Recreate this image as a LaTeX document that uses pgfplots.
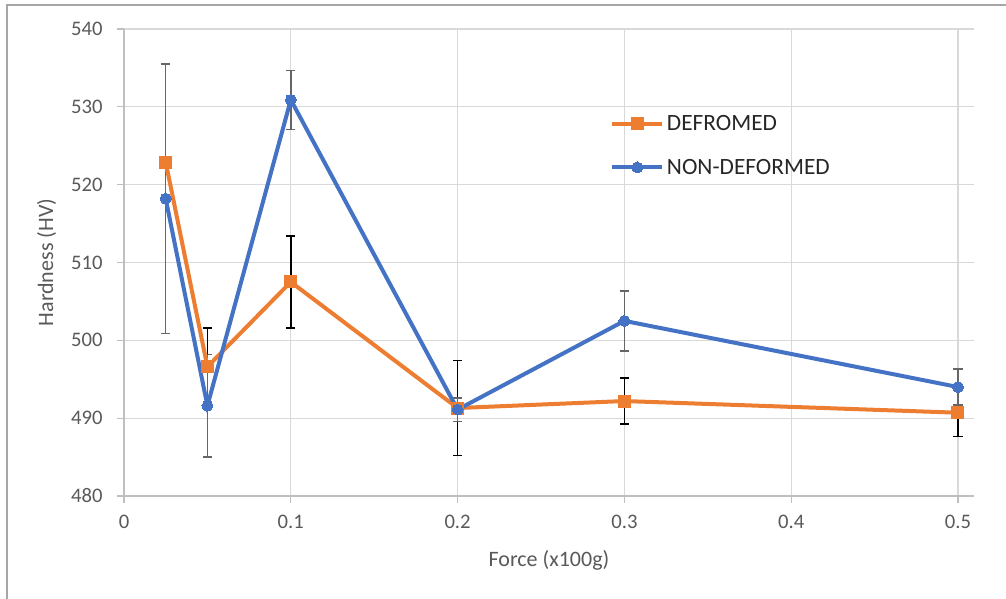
\documentclass[border=0pt]{standalone}
\usepackage{pgfplots}
\pgfplotsset{compat=1.18}
\usepackage{fontspec}
\setmainfont{Carlito}
\definecolor{orng}{HTML}{ED7D31}
\definecolor{blu}{HTML}{4472C4}
\definecolor{gridc}{HTML}{D9D9D9}
\definecolor{axc}{HTML}{BFBFBF}
\definecolor{txt}{HTML}{595959}
\definecolor{bord}{HTML}{A6A6A6}
\definecolor{errg}{HTML}{666666}
\begin{document}
\begin{tikzpicture}
\path[use as bounding box] (-93pt,-77.25pt) rectangle (661.5pt,372pt);
\draw[bord, line width=1.2pt] (-87.75pt,-90pt) -- (-87.75pt,368.25pt) -- (680pt,368.25pt);
\begin{axis}[
  scale only axis, width=637.5pt, height=350.25pt,
  xmin=0, xmax=0.5096, ymin=480, ymax=540,
  xtick={0,0.1,0.2,0.3,0.4,0.5}, xticklabels={0,0.1,0.2,0.3,0.4,0.5},
  ytick={480,490,500,510,520,530,540},
  yticklabels={480,490,500,510,520,530,540},
  grid=major, major grid style={gridc, line width=0.9pt},
  axis x line*=bottom, axis y line*=left,
  axis line style={axc, line width=0.9pt, -},
  tick style={axc, line width=0.9pt}, tick align=outside, major tick length=5pt,
  ticklabel style={font=\fontsize{15.5}{17}\selectfont, text=txt},
  xticklabel style={yshift=-6pt},
  yticklabel style={xshift=-7.5pt},
  xlabel={Force (x100g)}, ylabel={Hardness (HV)},
  every axis x label/.style={at={(axis description cs:0.5,0)}, anchor=center, yshift=-48pt, font=\fontsize{16.5}{18}\selectfont, text=txt},
  every axis y label/.style={at={(axis description cs:0,0.5)}, anchor=center, rotate=90, yshift=58pt, font=\fontsize{16.5}{18}\selectfont, text=txt},
  legend style={at={(0.5718,0.822)}, anchor=north west, draw=none, fill=none,
    font=\fontsize{17.5}{20}\selectfont, text=black!85, row sep=16pt, inner sep=0pt,
    cells={anchor=west}},
  legend image code/.code={\draw[mark repeat=2,mark phase=2,#1] plot coordinates {(0pt,0pt) (18.75pt,0pt) (37.5pt,0pt)};},
  clip=false,
]
% error bars, DEFROMED (black)
\addplot[forget plot, only marks, mark=none,
  error bars/.cd, y dir=both, y explicit,
  error bar style={draw=black, line width=1.1pt},
  error mark options={draw=black, rotate=90, mark size=3.4pt, line width=1.1pt}]
  coordinates {(0.05,496.6) +- (0,5.0) (0.1,507.5) +- (0,5.9) (0.2,491.3) +- (0,6.1)
               (0.3,492.2) +- (0,2.95) (0.5,490.7) +- (0,3.05)};
% error bars, NON-DEFORMED (gray)
\addplot[forget plot, only marks, mark=none,
  error bars/.cd, y dir=both, y explicit,
  error bar style={draw=errg, line width=1.1pt},
  error mark options={draw=errg, rotate=90, mark size=3.4pt, line width=1.1pt}]
  coordinates {(0.025,518.2) +- (0,17.3) (0.05,491.6) +- (0,6.6) (0.1,530.9) +- (0,3.8)
               (0.2,491.1) +- (0,1.5) (0.3,502.5) +- (0,3.85) (0.5,494.0) +- (0,2.3)};
\addplot[orng, line width=3pt, mark=square*, mark size=4.5pt, mark options={solid, fill=orng, draw=orng, line width=0pt}]
  coordinates {(0.025,522.9) (0.05,496.6) (0.1,507.5) (0.2,491.3) (0.3,492.2) (0.5,490.7)};
\addlegendentry{DEFROMED}
\addplot[blu, line width=3pt, mark=*, mark size=4.1pt, mark options={solid, fill=blu, draw=blu, line width=0pt}]
  coordinates {(0.025,518.2) (0.05,491.6) (0.1,530.9) (0.2,491.1) (0.3,502.5) (0.5,494.0)};
\addlegendentry{NON-DEFORMED}
\end{axis}
\end{tikzpicture}
\end{document}
